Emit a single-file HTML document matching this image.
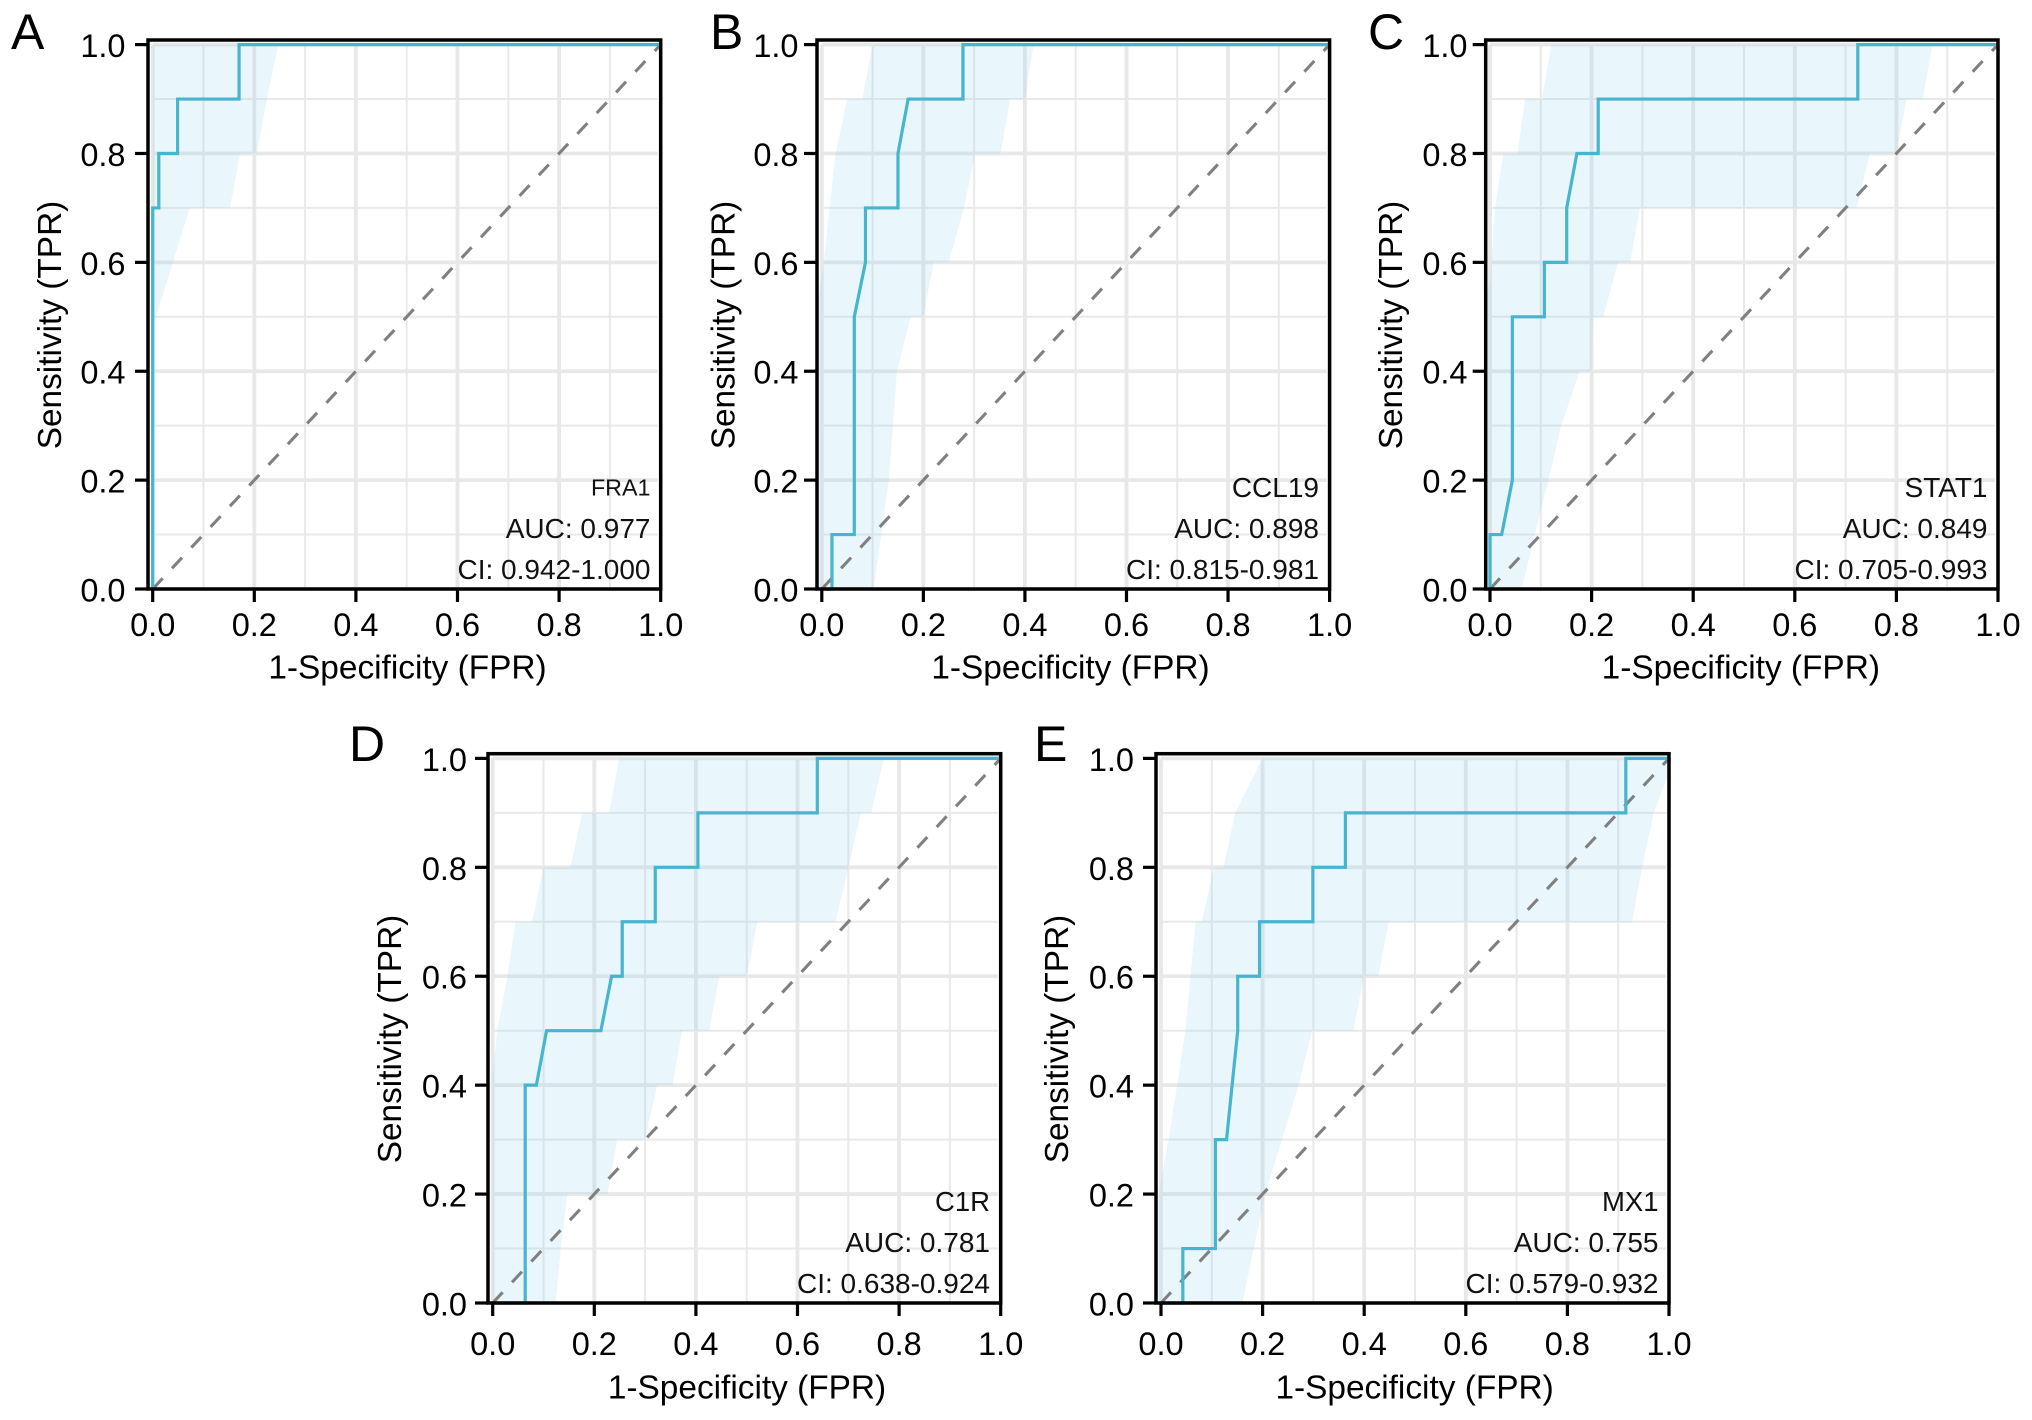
<!DOCTYPE html>
<html>
<head>
<meta charset="utf-8">
<title>ROC curves</title>
<style>
html,body{margin:0;padding:0;background:#fff;}
svg{display:block;}
text{font-family:"Liberation Sans",sans-serif;fill:#000;}
</style>
</head>
<body>
<svg id="chart" width="2032" height="1420" viewBox="0 0 2032 1420" xmlns="http://www.w3.org/2000/svg"></svg>
<script>
// Shared axis values
const majorTicks = [0, 0.2, 0.4, 0.6, 0.8, 1.0];
const tickLabels = ["0.0", "0.2", "0.4", "0.6", "0.8", "1.0"];
const minorTicks = [0.1, 0.3, 0.5, 0.7, 0.9];
const xAxisTitle = "1-Specificity (FPR)";
const yAxisTitle = "Sensitivity (TPR)";

// Panel text
const panelLetters = ["A", "B", "C", "D", "E"];
const geneNames = ["FRA1", "CCL19", "STAT1", "C1R", "MX1"];
const aucLabels = ["AUC: 0.977", "AUC: 0.898", "AUC: 0.849", "AUC: 0.781", "AUC: 0.755"];
const ciLabels = ["CI: 0.942-1.000", "CI: 0.815-0.981", "CI: 0.705-0.993", "CI: 0.638-0.924", "CI: 0.579-0.932"];

// ROC curves
const fprA = [0, 0, 0.012, 0.012, 0.049, 0.049, 0.17, 0.17, 1];
const tprA = [0, 0.7, 0.7, 0.8, 0.8, 0.9, 0.9, 1, 1];
const fprB = [0, 0.02, 0.02, 0.064, 0.064, 0.086, 0.086, 0.15, 0.15, 0.17, 0.278, 0.278, 1];
const tprB = [0, 0, 0.1, 0.1, 0.5, 0.6, 0.7, 0.7, 0.8, 0.9, 0.9, 1, 1];
const fprC = [0, 0, 0.023, 0.044, 0.044, 0.107, 0.107, 0.151, 0.151, 0.171, 0.213, 0.213, 0.724, 0.724, 1];
const tprC = [0, 0.1, 0.1, 0.2, 0.5, 0.5, 0.6, 0.6, 0.7, 0.8, 0.8, 0.9, 0.9, 1, 1];
const fprD = [0, 0.064, 0.064, 0.086, 0.106, 0.213, 0.234, 0.255, 0.255, 0.32, 0.32, 0.404, 0.404, 0.639, 0.639, 1];
const tprD = [0, 0, 0.4, 0.4, 0.5, 0.5, 0.6, 0.6, 0.7, 0.7, 0.8, 0.8, 0.9, 0.9, 1, 1];
const fprE = [0, 0.043, 0.043, 0.107, 0.107, 0.129, 0.151, 0.151, 0.194, 0.194, 0.299, 0.299, 0.363, 0.363, 0.915, 0.915, 1];
const tprE = [0, 0, 0.1, 0.1, 0.3, 0.3, 0.5, 0.6, 0.6, 0.7, 0.7, 0.8, 0.8, 0.9, 0.9, 1, 1];

// Confidence band: left boundary (top to bottom), right boundary (top to bottom)
const bandLeftFprA = [0, 0];
const bandLeftTprA = [1, 0.48];
const bandRightFprA = [0.247, 0.225, 0.205, 0.172, 0.152, 0.073, 0];
const bandRightTprA = [1, 0.9, 0.8, 0.8, 0.7, 0.7, 0.48];

const bandLeftFprB = [0.1, 0.08, 0.05, 0.027, 0.004, -0.012, -0.012];
const bandLeftTprB = [1, 0.9, 0.9, 0.8, 0.6, 0.5, 0];
const bandRightFprB = [0.417, 0.4, 0.371, 0.352, 0.302, 0.28, 0.25, 0.22, 0.2, 0.175, 0.148, 0.132, 0.102];
const bandRightTprB = [1, 0.9, 0.9, 0.8, 0.8, 0.7, 0.6, 0.6, 0.5, 0.5, 0.4, 0.2, 0];

const bandLeftFprC = [0.121, 0.102, 0.069, 0.054, 0.026, 0.01, 0, -0.012, -0.012];
const bandLeftTprC = [1, 0.9, 0.9, 0.8, 0.8, 0.7, 0.57, 0.5, 0];
const bandRightFprC = [0.871, 0.852, 0.82, 0.8, 0.748, 0.722, 0.295, 0.276, 0.252, 0.223, 0.203, 0.2, 0.177, 0.14, 0.115, 0.062];
const bandRightTprC = [1, 0.9, 0.9, 0.8, 0.8, 0.7, 0.7, 0.6, 0.6, 0.5, 0.5, 0.4, 0.4, 0.3, 0.2, 0];

const bandLeftFprD = [0.249, 0.229, 0.176, 0.153, 0.1, 0.078, 0.045, 0.029, 0.009, 0, 0];
const bandLeftTprD = [1, 0.9, 0.9, 0.8, 0.8, 0.7, 0.7, 0.6, 0.5, 0.42, 0];
const bandRightFprD = [0.77, 0.745, 0.725, 0.7, 0.675, 0.521, 0.5, 0.446, 0.426, 0.373, 0.354, 0.324, 0.3, 0.245, 0.226, 0.147, 0.134, 0.124];
const bandRightTprD = [1, 0.9, 0.9, 0.8, 0.7, 0.7, 0.6, 0.6, 0.5, 0.5, 0.4, 0.4, 0.3, 0.3, 0.2, 0.2, 0.1, 0];

const bandLeftFprE = [0.199, 0.146, 0.123, 0.104, 0.08, 0.068, 0.048, 0.015, -0.005, -0.012, -0.012];
const bandLeftTprE = [1, 0.9, 0.8, 0.8, 0.7, 0.7, 0.5, 0.3, 0.2, 0.15, 0];
const bandRightFprE = [1.01, 0.99, 0.97, 0.947, 0.927, 0.448, 0.428, 0.399, 0.379, 0.297, 0.271, 0.205, 0.16];
const bandRightTprE = [1, 0.95, 0.9, 0.8, 0.7, 0.7, 0.6, 0.6, 0.5, 0.5, 0.4, 0.2, 0];

const curveFpr = [fprA, fprB, fprC, fprD, fprE];
const curveTpr = [tprA, tprB, tprC, tprD, tprE];
const leftFpr = [bandLeftFprA, bandLeftFprB, bandLeftFprC, bandLeftFprD, bandLeftFprE];
const leftTpr = [bandLeftTprA, bandLeftTprB, bandLeftTprC, bandLeftTprD, bandLeftTprE];
const rightFpr = [bandRightFprA, bandRightFprB, bandRightFprC, bandRightFprD, bandRightFprE];
const rightTpr = [bandRightTprA, bandRightTprB, bandRightTprC, bandRightTprD, bandRightTprE];

// Page layout for each panel (pixels)
const layouts = [
  {x0:152.7, x1:660.7, y1:44.6, y0:589, left:148, top:40, tickRight:125.5, yTitleX:61, xTitleC:407.5, yTitleC:325, xTickBase:636, xTitleBase:678.6, annRight:650.5, annBase:[495.5,538,579], geneSize:23.3, letterX:11, letterBase:49},
  {x0:821.8, x1:1329.6, y1:44.6, y0:589, left:817, top:40, tickRight:798.5, yTitleX:734.7, xTitleC:1070.5, yTitleC:325, xTickBase:636, xTitleBase:678.6, annRight:1319, annBase:[497,538,579], geneSize:28, letterX:710, letterBase:49},
  {x0:1490, x1:1998, y1:44.6, y0:589, left:1485.7, top:40, tickRight:1467.5, yTitleX:1402, xTitleC:1740.8, yTitleC:325, xTickBase:636, xTitleBase:678.6, annRight:1987.5, annBase:[497,538,579], geneSize:28, letterX:1368, letterBase:49},
  {x0:492.7, x1:1000.7, y1:758.4, y0:1303, left:488, top:753.7, tickRight:467, yTitleX:401, xTitleC:747, yTitleC:1039, xTickBase:1355, xTitleBase:1398.6, annRight:990, annBase:[1211,1252,1293], geneSize:27.5, letterX:349, letterBase:761},
  {x0:1161, x1:1669, y1:758.4, y0:1303, left:1156, top:753.7, tickRight:1134, yTitleX:1068, xTitleC:1414.6, yTitleC:1039, xTickBase:1355, xTitleBase:1398.6, annRight:1658.5, annBase:[1211,1252,1293], geneSize:27.5, letterX:1034, letterBase:761}
];

const svgNS = "http://www.w3.org/2000/svg";
const root = document.getElementById("chart");

function make(tag, attrs, parent) {
  const el = document.createElementNS(svgNS, tag);
  for (const k in attrs) el.setAttribute(k, attrs[k]);
  parent.appendChild(el);
  return el;
}

function pointsOf(xs, ys, sx, sy) {
  return xs.map((v, i) => sx(v).toFixed(2) + "," + sy(ys[i]).toFixed(2)).join(" ");
}

layouts.forEach((L, p) => {
  const sx = v => L.x0 + v * (L.x1 - L.x0);
  const sy = v => L.y0 - v * (L.y0 - L.y1);
  const id = panelLetters[p].toLowerCase();

  const g = make("g", {}, root);
  
  

  const clip = make("clipPath", {id: "clip-" + id}, g);
  make("rect", {x: L.left, y: L.top, width: L.x1 - L.left, height: L.y0 - L.top}, clip);

  // Grid
  minorTicks.forEach(t => {
    const gv = make("line", {x1: sx(t), x2: sx(t), y1: sy(1), y2: sy(0), stroke: "#e9e9e9", "stroke-width": 2}, g);
    
    
    const gh = make("line", {x1: sx(0), x2: sx(0.994), y1: sy(t), y2: sy(t), stroke: "#e9e9e9", "stroke-width": 2}, g);
    
    
  });
  majorTicks.forEach(t => {
    const gv = make("line", {x1: sx(t), x2: sx(t), y1: sy(1), y2: sy(0), stroke: "#e8e8e8", "stroke-width": 3.8}, g);
    
    
    const gh = make("line", {x1: sx(0), x2: sx(0.994), y1: sy(t), y2: sy(t), stroke: "#e8e8e8", "stroke-width": 3.8}, g);
    
    
  });

  // Confidence band
  const bandXs = leftFpr[p].concat(rightFpr[p].slice().reverse());
  const bandYs = leftTpr[p].concat(rightTpr[p].slice().reverse());
  const band = make("polygon", {points: pointsOf(bandXs, bandYs, sx, sy), fill: "rgba(140,215,240,0.19)", "clip-path": "url(#clip-" + id + ")"}, g);
  
  

  // Reference diagonal
  const diag = make("line", {x1: sx(0), y1: sy(0), x2: sx(1), y2: sy(1), stroke: "#808080", "stroke-width": 3.1, "stroke-dasharray": "14.6 13.7"}, g);
  
  

  // ROC curve
  const curve = make("polyline", {points: pointsOf(curveFpr[p], curveTpr[p], sx, sy), fill: "none", stroke: "#47b4d0", "stroke-width": 3.2, "stroke-linejoin": "miter"}, g);
  
  

  // Frame
  const frame = make("rect", {x: L.left, y: L.top, width: L.x1 - L.left, height: L.y0 - L.top, fill: "none", stroke: "#000", "stroke-width": 3.5}, g);
  
  

  // Ticks and labels
  majorTicks.forEach((t, i) => {
    const tx = make("line", {x1: sx(t), x2: sx(t), y1: L.y0, y2: L.y0 + 13, stroke: "#000", "stroke-width": 3.2}, g);
    
    
    const ty = make("line", {x1: L.left - 13, x2: L.left, y1: sy(t), y2: sy(t), stroke: "#000", "stroke-width": 3.2}, g);
    
    

    const lx = make("text", {x: sx(t), y: L.xTickBase, "font-size": 32.5, "text-anchor": "middle"}, g);
    lx.textContent = tickLabels[i];
    
    
    const ly = make("text", {x: L.tickRight, y: sy(t) + 12.5, "font-size": 32.5, "text-anchor": "end"}, g);
    ly.textContent = tickLabels[i];
    
    
  });

  // Axis titles
  const xt = make("text", {x: L.xTitleC, y: L.xTitleBase, "font-size": 33.4, "text-anchor": "middle"}, g);
  xt.textContent = xAxisTitle;
  
  
  const yt = make("text", {x: 0, y: 0, "font-size": 33.4, "text-anchor": "middle", transform: "translate(" + L.yTitleX + "," + L.yTitleC + ") rotate(-90)"}, g);
  yt.textContent = yAxisTitle;
  
  

  // Annotations
  const gene = make("text", {x: L.annRight, y: L.annBase[0], "font-size": L.geneSize, "text-anchor": "end", style: "fill:#111"}, g);
  gene.textContent = geneNames[p];
  
  
  const auc = make("text", {x: L.annRight, y: L.annBase[1], "font-size": 28, "text-anchor": "end", style: "fill:#111"}, g);
  auc.textContent = aucLabels[p];
  
  
  const ci = make("text", {x: L.annRight, y: L.annBase[2], "font-size": 28, "text-anchor": "end", style: "fill:#111"}, g);
  ci.textContent = ciLabels[p];
  
  

  // Panel letter
  const letter = make("text", {x: L.letterX, y: L.letterBase, "font-size": 50}, g);
  letter.textContent = panelLetters[p];
  
  
});
</script>
</body>
</html>
